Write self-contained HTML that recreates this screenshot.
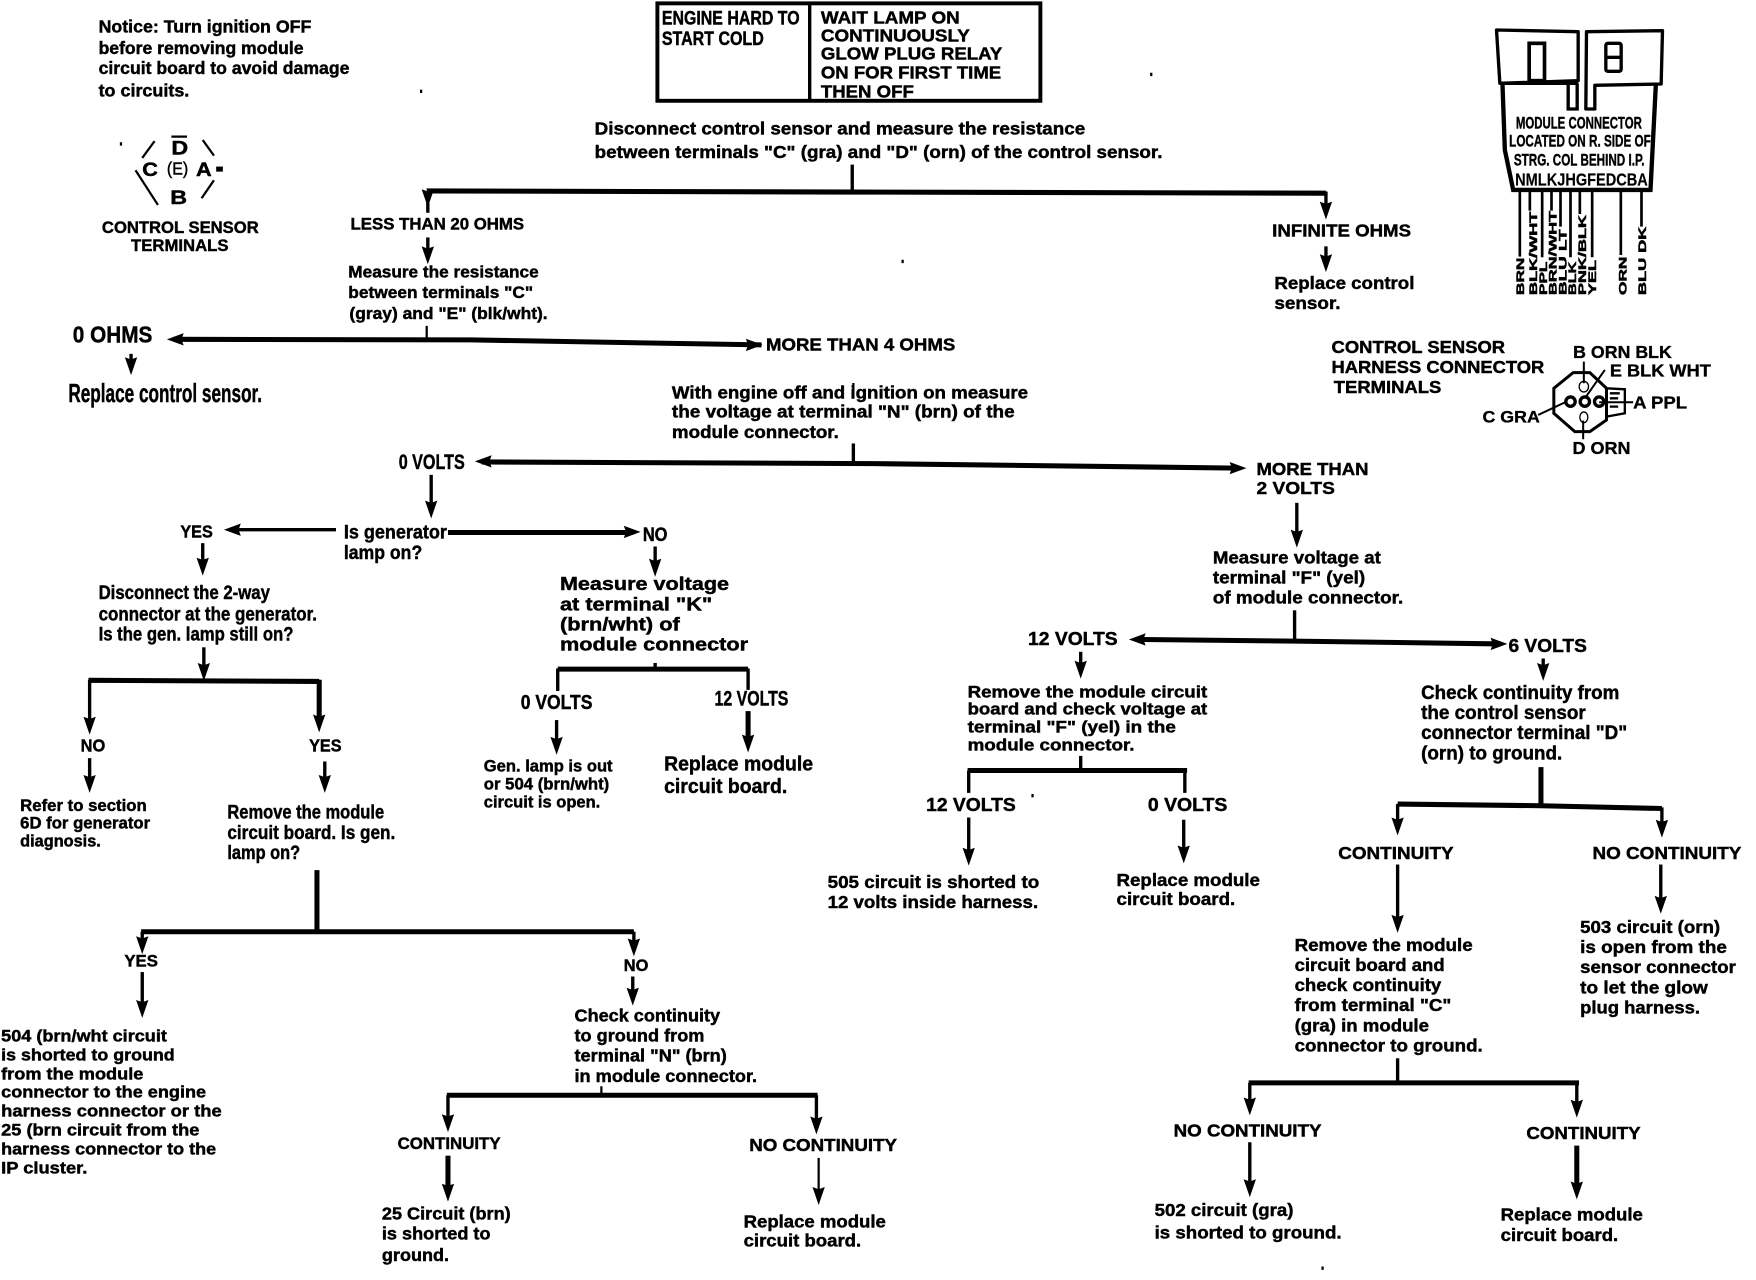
<!DOCTYPE html>
<html><head><meta charset="utf-8"><style>
html,body{margin:0;padding:0;background:#fff}
svg{display:block}
text{font-family:"Liberation Sans",sans-serif;font-weight:bold;fill:#000;font-size:15.5px;stroke:#000;stroke-width:.4px}
.l{stroke:#000;stroke-width:3;fill:none}
.t{stroke:#000;stroke-width:2;fill:none}
.k{stroke:#000;stroke-width:4.5;fill:none}
.s{font-size:15px}.b{font-size:17px}.h{font-size:21px}.c{font-size:18px}
</style></head><body>
<svg width="1756" height="1280" viewBox="0 0 1568 1143" xmlns="http://www.w3.org/2000/svg">
<defs>
<path id="d" d="M-5.500,-16 L0,-14 L5.500,-16 L0,0Z"/>
<path id="r" d="M-15,-5.500 L-13,0 L-15,5.500 L0,0Z"/>
<path id="f" d="M15,-5.500 L13,0 L15,5.500 L0,0Z"/>
</defs>

<!-- top box -->
<rect x="587" y="3" width="342" height="87" class="l" style="stroke-width:3.500"/>
<path d="M723,3V90" class="l"/>
<text x="591" y="22" class="b" textLength="123" lengthAdjust="spacingAndGlyphs">ENGINE HARD TO</text>
<text x="591" y="40" class="b" textLength="91" lengthAdjust="spacingAndGlyphs">START COLD</text>
<text x="733" y="21" textLength="124" lengthAdjust="spacingAndGlyphs">WAIT LAMP ON</text>
<text x="733" y="37" textLength="133" lengthAdjust="spacingAndGlyphs">CONTINUOUSLY</text>
<text x="733" y="53" textLength="162" lengthAdjust="spacingAndGlyphs">GLOW PLUG RELAY</text>
<text x="733" y="70" textLength="161" lengthAdjust="spacingAndGlyphs">ON FOR FIRST TIME</text>
<text x="733" y="87" textLength="83" lengthAdjust="spacingAndGlyphs">THEN OFF</text>

<text x="531" y="120" textLength="438" lengthAdjust="spacingAndGlyphs">Disconnect control  sensor and measure the resistance</text>
<text x="531" y="141" textLength="507" lengthAdjust="spacingAndGlyphs">between terminals "C" (gra) and "D" (orn) of the control sensor.</text>

<!-- notice -->
<text x="88" y="29" textLength="190" lengthAdjust="spacingAndGlyphs">Notice: Turn ignition OFF</text>
<text x="88" y="48" textLength="183" lengthAdjust="spacingAndGlyphs">before removing module</text>
<text x="88" y="66" textLength="224" lengthAdjust="spacingAndGlyphs">circuit board to avoid damage</text>
<text x="88" y="86" textLength="81" lengthAdjust="spacingAndGlyphs">to circuits.</text>

<!-- sensor terminals -->
<path d="M138,126L127,141M121,152L141,183M181,125L191,139M191,161L180,177M153,122H167" class="t"/>
<path d="M193,151H199" class="k"/>
<text x="153" y="138" class="b" textLength="15" lengthAdjust="spacingAndGlyphs">D</text>
<text x="127" y="157" class="b" textLength="14" lengthAdjust="spacingAndGlyphs">C</text>
<text x="149" y="156" textLength="19" lengthAdjust="spacingAndGlyphs" style="font-weight:normal">(E)</text>
<text x="175" y="157" class="b" textLength="14" lengthAdjust="spacingAndGlyphs">A</text>
<text x="152" y="182" class="b" textLength="15" lengthAdjust="spacingAndGlyphs">B</text>
<text x="91" y="208" class="s" textLength="140" lengthAdjust="spacingAndGlyphs">CONTROL SENSOR</text>
<text x="117" y="224" class="s" textLength="87" lengthAdjust="spacingAndGlyphs">TERMINALS</text>

<!-- top branches -->
<path d="M761,147V171" class="l"/>
<path d="M381,170.500L761,171.500L1184,172.500" class="k"/>
<path d="M382,171V190" class="l"/><use href="#d" x="382" y="185"/>
<path d="M1184,171V185" class="l"/><use href="#d" x="1184" y="196"/>
<text x="313" y="205" class="s" textLength="155" lengthAdjust="spacingAndGlyphs">LESS THAN 20 OHMS</text>
<path d="M382,212V225" class="l"/><use href="#d" x="382" y="236"/>
<text x="311" y="248" class="s" textLength="170" lengthAdjust="spacingAndGlyphs">Measure the resistance</text>
<text x="311" y="266" class="s" textLength="165" lengthAdjust="spacingAndGlyphs">between terminals "C"</text>
<text x="312" y="285" class="s" textLength="177" lengthAdjust="spacingAndGlyphs">(gray) and "E" (blk/wht).</text>

<text x="1136" y="211" style="font-size:16px" textLength="124" lengthAdjust="spacingAndGlyphs">INFINITE OHMS</text>
<path d="M1184,220V232" class="l"/><use href="#d" x="1184" y="243"/>
<text x="1138" y="258" style="font-size:16px" textLength="125" lengthAdjust="spacingAndGlyphs">Replace control</text>
<text x="1138" y="276" style="font-size:16px" textLength="59" lengthAdjust="spacingAndGlyphs">sensor.</text>

<text x="65" y="306" style="font-size:21px" textLength="71" lengthAdjust="spacingAndGlyphs">0 OHMS</text>
<path d="M381,291V304" class="t"/>
<path d="M155,303L420,303.500L680,308" class="k"/>
<use href="#f" x="149" y="303"/><use href="#r" x="681" y="308"/>
<path d="M117,316V325" class="l"/><use href="#d" x="117" y="335"/>
<text x="61" y="359" style="font-size:23px" textLength="173" lengthAdjust="spacingAndGlyphs">Replace control sensor.</text>
<text x="684" y="313" style="font-size:16px" textLength="169" lengthAdjust="spacingAndGlyphs">MORE THAN 4 OHMS</text>
<path d="M762,342V352" class="t"/>
<text x="600" y="356" textLength="318" lengthAdjust="spacingAndGlyphs">With engine off and ignition on measure</text>
<text x="600" y="373" textLength="306" lengthAdjust="spacingAndGlyphs">the voltage at terminal "N" (brn) of the</text>
<text x="600" y="391" textLength="149" lengthAdjust="spacingAndGlyphs">module connector.</text>

<!-- second branch -->
<path d="M762,396V414" class="l"/>
<path d="M430,412.500L780,414L1105,418" class="k"/>
<use href="#f" x="424" y="412"/><use href="#r" x="1113" y="418"/>
<text x="356" y="419" style="font-size:19px" textLength="59" lengthAdjust="spacingAndGlyphs">0 VOLTS</text>
<path d="M385,424V450" class="l"/><use href="#d" x="385" y="463"/>
<text x="1122" y="424" style="font-size:16px" textLength="100" lengthAdjust="spacingAndGlyphs">MORE THAN</text>
<text x="1122" y="441" style="font-size:16px" textLength="70" lengthAdjust="spacingAndGlyphs">2 VOLTS</text>
<path d="M1158,449V476" class="l"/><use href="#d" x="1158" y="489"/>
<text x="1083" y="503" textLength="150" lengthAdjust="spacingAndGlyphs">Measure voltage at</text>
<text x="1083" y="521" textLength="136" lengthAdjust="spacingAndGlyphs">terminal "F" (yel)</text>
<text x="1083" y="539" textLength="170" lengthAdjust="spacingAndGlyphs">of module connector.</text>

<!-- generator -->
<text x="307" y="481" class="b" textLength="92" lengthAdjust="spacingAndGlyphs">Is generator</text>
<text x="307" y="499" class="b" textLength="70" lengthAdjust="spacingAndGlyphs">lamp on?</text>
<text x="161" y="480" style="font-size:16px" textLength="29" lengthAdjust="spacingAndGlyphs">YES</text>
<path d="M300,473H210" class="l"/><use href="#f" x="200" y="473"/>
<path d="M400,475.500H565" class="k"/><use href="#r" x="572" y="475"/>
<text x="574" y="483" class="b" textLength="22" lengthAdjust="spacingAndGlyphs">NO</text>
<path d="M181,485V503" class="l"/><use href="#d" x="181" y="514"/>
<path d="M585,488V504" class="l"/><use href="#d" x="585" y="515"/>
<text x="88" y="535" class="b" textLength="153" lengthAdjust="spacingAndGlyphs">Disconnect the 2-way</text>
<text x="88" y="554" class="b" textLength="195" lengthAdjust="spacingAndGlyphs">connector at the generator.</text>
<text x="88" y="572" class="b" textLength="174" lengthAdjust="spacingAndGlyphs">Is the gen. lamp still on?</text>
<text x="500" y="527" style="font-size:16.500px" textLength="151" lengthAdjust="spacingAndGlyphs">Measure voltage</text>
<text x="500" y="545" style="font-size:16.500px" textLength="136" lengthAdjust="spacingAndGlyphs">at terminal "K"</text>
<text x="500" y="563" style="font-size:16.500px" textLength="107" lengthAdjust="spacingAndGlyphs">(brn/wht) of</text>
<text x="500" y="581" style="font-size:16.500px" textLength="168" lengthAdjust="spacingAndGlyphs">module connector</text>

<path d="M182,578V600" class="l"/><use href="#d" x="182" y="608"/>
<path d="M79,607.500L285,608.500" class="k"/>
<path d="M80,607V645" class="l"/><use href="#d" x="80" y="656"/>
<path d="M285,607V643" class="k"/><use href="#d" x="285" y="654"/>
<text x="72" y="671" style="font-size:16px" textLength="22" lengthAdjust="spacingAndGlyphs">NO</text>
<text x="276" y="671" style="font-size:16px" textLength="29" lengthAdjust="spacingAndGlyphs">YES</text>
<path d="M80,677V696" class="l"/><use href="#d" x="80" y="708"/>
<path d="M290,680V696" class="l"/><use href="#d" x="290" y="708"/>
<text x="18" y="724" class="s" textLength="113" lengthAdjust="spacingAndGlyphs">Refer to section</text>
<text x="18" y="740" class="s" textLength="116" lengthAdjust="spacingAndGlyphs">6D for generator</text>
<text x="18" y="756" class="s" textLength="72" lengthAdjust="spacingAndGlyphs">diagnosis.</text>
<text x="203" y="731" class="b" textLength="140" lengthAdjust="spacingAndGlyphs">Remove the module</text>
<text x="203" y="749" class="b" textLength="150" lengthAdjust="spacingAndGlyphs">circuit board.  Is gen.</text>
<text x="203" y="767" class="b" textLength="65" lengthAdjust="spacingAndGlyphs">lamp on?</text>

<!-- K branch -->
<path d="M585,592V597" class="l"/>
<path d="M498,597.500H668" class="k"/>
<path d="M498,597V617M668,597V616" class="l"/>
<text x="465" y="633" class="c" textLength="64" lengthAdjust="spacingAndGlyphs">0 VOLTS</text>
<text x="638" y="630" style="font-size:19px" textLength="66" lengthAdjust="spacingAndGlyphs">12 VOLTS</text>
<path d="M497,643V662" class="l"/><use href="#d" x="497" y="674"/>
<path d="M668,635V660" class="k"/><use href="#d" x="668" y="672"/>
<text x="432" y="689" class="s" textLength="115" lengthAdjust="spacingAndGlyphs">Gen. lamp is out</text>
<text x="432" y="705" class="s" textLength="112" lengthAdjust="spacingAndGlyphs">or 504 (brn/wht)</text>
<text x="432" y="721" class="s" textLength="104" lengthAdjust="spacingAndGlyphs">circuit is open.</text>
<text x="593" y="688" style="font-size:18px" textLength="133" lengthAdjust="spacingAndGlyphs">Replace module</text>
<text x="593" y="708" style="font-size:18px" textLength="110" lengthAdjust="spacingAndGlyphs">circuit board.</text>

<!-- lamp branch -->
<path d="M283,777V832" class="k"/>
<path d="M126,832L566,832" class="k"/>
<path d="M127,832V842" class="l"/><use href="#d" x="127" y="852"/>
<path d="M566,832V844" class="l"/><use href="#d" x="566" y="854"/>
<text x="111" y="863" class="s" textLength="30" lengthAdjust="spacingAndGlyphs">YES</text>
<text x="557" y="867" class="s" textLength="22" lengthAdjust="spacingAndGlyphs">NO</text>
<path d="M127,868V896" class="l"/><use href="#d" x="127" y="909"/>
<path d="M565,872V887" class="l"/><use href="#d" x="565" y="898"/>
<text x="1" y="930" class="s" textLength="148" lengthAdjust="spacingAndGlyphs">504 (brn/wht circuit</text>
<text x="1" y="947" class="s" textLength="155" lengthAdjust="spacingAndGlyphs">is shorted to ground</text>
<text x="1" y="964" class="s" textLength="127" lengthAdjust="spacingAndGlyphs">from the module</text>
<text x="1" y="980" class="s" textLength="183" lengthAdjust="spacingAndGlyphs">connector to the engine</text>
<text x="1" y="997" class="s" textLength="197" lengthAdjust="spacingAndGlyphs">harness  connector or the</text>
<text x="1" y="1014" class="s" textLength="177" lengthAdjust="spacingAndGlyphs">25 (brn circuit from the</text>
<text x="1" y="1031" class="s" textLength="192" lengthAdjust="spacingAndGlyphs">harness connector to the</text>
<text x="1" y="1048" class="s" textLength="77" lengthAdjust="spacingAndGlyphs">IP cluster.</text>
<text x="513" y="912" textLength="130" lengthAdjust="spacingAndGlyphs">Check continuity</text>
<text x="513" y="930" textLength="116" lengthAdjust="spacingAndGlyphs">to ground from</text>
<text x="513" y="948" textLength="136" lengthAdjust="spacingAndGlyphs">terminal "N" (brn)</text>
<text x="513" y="966" textLength="163" lengthAdjust="spacingAndGlyphs">in module connector.</text>
<path d="M537,970V978" class="t"/>
<path d="M399,978H730" class="k"/>
<path d="M400,978V1000" class="l"/><use href="#d" x="400" y="1011"/>
<path d="M729,978V1002" class="l"/><use href="#d" x="729" y="1013"/>
<text x="355" y="1026" class="s" textLength="92" lengthAdjust="spacingAndGlyphs">CONTINUITY</text>
<text x="669" y="1028" textLength="132" lengthAdjust="spacingAndGlyphs">NO CONTINUITY</text>
<path d="M400,1032V1061" class="k"/><use href="#d" x="400" y="1073"/>
<path d="M731,1034V1065" class="t"/><use href="#d" x="731" y="1076"/>
<text x="341" y="1089" textLength="115" lengthAdjust="spacingAndGlyphs">25 Circuit (brn)</text>
<text x="341" y="1107" textLength="97" lengthAdjust="spacingAndGlyphs">is shorted to</text>
<text x="341" y="1126" textLength="60" lengthAdjust="spacingAndGlyphs">ground.</text>
<text x="664" y="1096" textLength="127" lengthAdjust="spacingAndGlyphs">Replace module</text>
<text x="664" y="1113" textLength="105" lengthAdjust="spacingAndGlyphs">circuit board.</text>

<!-- right tree -->
<path d="M1156,545V572" class="l"/>
<path d="M1015,571L1156,572.500L1340,575" class="k"/>
<use href="#f" x="1008" y="571"/><use href="#r" x="1346" y="575"/>
<text x="918" y="576" style="font-size:16.500px" textLength="80" lengthAdjust="spacingAndGlyphs">12 VOLTS</text>
<text x="1347" y="582" style="font-size:16.500px" textLength="70" lengthAdjust="spacingAndGlyphs">6 VOLTS</text>
<path d="M965,582V594" class="l"/><use href="#d" x="965" y="606"/>
<path d="M1378,588V597" class="l"/><use href="#d" x="1378" y="608"/>
<text x="864" y="623" class="s" textLength="214" lengthAdjust="spacingAndGlyphs">Remove the module circuit</text>
<text x="864" y="638" class="s" textLength="214" lengthAdjust="spacingAndGlyphs">board and check voltage at</text>
<text x="864" y="654" class="s" textLength="186" lengthAdjust="spacingAndGlyphs">terminal "F" (yel) in the</text>
<text x="864" y="670" class="s" textLength="149" lengthAdjust="spacingAndGlyphs">module connector.</text>
<text x="1269" y="624" class="b" textLength="177" lengthAdjust="spacingAndGlyphs">Check continuity from</text>
<text x="1269" y="642" class="b" textLength="147" lengthAdjust="spacingAndGlyphs">the control sensor</text>
<text x="1269" y="660" class="b" textLength="184" lengthAdjust="spacingAndGlyphs">connector terminal "D"</text>
<text x="1269" y="678" class="b" textLength="126" lengthAdjust="spacingAndGlyphs">(orn) to ground.</text>

<path d="M965,675V688" class="l"/>
<path d="M864,688H1060" class="k"/>
<path d="M865,688V708M1058,688V708" class="l"/>
<text x="827" y="724" style="font-size:16.500px" textLength="80" lengthAdjust="spacingAndGlyphs">12 VOLTS</text>
<text x="1025" y="724" style="font-size:16.500px" textLength="71" lengthAdjust="spacingAndGlyphs">0 VOLTS</text>
<path d="M865,730V760" class="l"/><use href="#d" x="865" y="773"/>
<path d="M1057,732V758" class="l"/><use href="#d" x="1057" y="771"/>
<text x="739" y="793" textLength="189" lengthAdjust="spacingAndGlyphs">505 circuit is shorted to</text>
<text x="739" y="811" textLength="188" lengthAdjust="spacingAndGlyphs">12 volts inside harness.</text>
<text x="997" y="791" textLength="128" lengthAdjust="spacingAndGlyphs">Replace module</text>
<text x="997" y="808" textLength="106" lengthAdjust="spacingAndGlyphs">circuit board.</text>

<path d="M1376,685V720" class="k"/>
<path d="M1248,718L1376,719.500L1484,722" class="k"/>
<path d="M1248,718V735M1484,721V737" class="l"/>
<use href="#d" x="1248" y="746"/><use href="#d" x="1484" y="748"/>
<text x="1195" y="767" style="font-size:16px" textLength="103" lengthAdjust="spacingAndGlyphs">CONTINUITY</text>
<text x="1422" y="767" textLength="133" lengthAdjust="spacingAndGlyphs">NO CONTINUITY</text>
<path d="M1248,772V822" class="l"/><use href="#d" x="1248" y="833"/>
<path d="M1483,772V804" class="l"/><use href="#d" x="1483" y="816"/>
<text x="1156" y="849" textLength="159" lengthAdjust="spacingAndGlyphs">Remove the module</text>
<text x="1156" y="867" textLength="134" lengthAdjust="spacingAndGlyphs">circuit board and</text>
<text x="1156" y="885" textLength="131" lengthAdjust="spacingAndGlyphs">check continuity</text>
<text x="1156" y="903" textLength="140" lengthAdjust="spacingAndGlyphs">from terminal "C"</text>
<text x="1156" y="921" textLength="120" lengthAdjust="spacingAndGlyphs">(gra) in module</text>
<text x="1156" y="939" textLength="168" lengthAdjust="spacingAndGlyphs">connector to ground.</text>
<text x="1411" y="833" textLength="125" lengthAdjust="spacingAndGlyphs">503 circuit (orn)</text>
<text x="1411" y="851" textLength="131" lengthAdjust="spacingAndGlyphs">is open from the</text>
<text x="1411" y="869" textLength="139" lengthAdjust="spacingAndGlyphs">sensor connector</text>
<text x="1411" y="887" textLength="114" lengthAdjust="spacingAndGlyphs">to let the glow</text>
<text x="1411" y="905" textLength="107" lengthAdjust="spacingAndGlyphs">plug harness.</text>
<path d="M1248,945V967" class="l"/>
<path d="M1115,967H1410" class="k"/>
<path d="M1116,967V985M1408,967V987" class="l"/>
<use href="#d" x="1116" y="996"/><use href="#d" x="1408" y="998"/>
<text x="1048" y="1015" textLength="132" lengthAdjust="spacingAndGlyphs">NO CONTINUITY</text>
<text x="1363" y="1017" textLength="102" lengthAdjust="spacingAndGlyphs">CONTINUITY</text>
<path d="M1116,1020V1056" class="l"/><use href="#d" x="1116" y="1069"/>
<path d="M1408,1023V1058" class="k"/><use href="#d" x="1408" y="1071"/>
<text x="1031" y="1086" textLength="124" lengthAdjust="spacingAndGlyphs">502 circuit (gra)</text>
<text x="1031" y="1106" textLength="167" lengthAdjust="spacingAndGlyphs">is shorted to ground.</text>
<text x="1340" y="1090" textLength="127" lengthAdjust="spacingAndGlyphs">Replace module</text>
<text x="1340" y="1108" textLength="105" lengthAdjust="spacingAndGlyphs">circuit board.</text>

<!-- control sensor harness -->
<text x="1189" y="315" style="font-size:16px" textLength="155" lengthAdjust="spacingAndGlyphs">CONTROL SENSOR</text>
<text x="1189" y="333" style="font-size:16px" textLength="190" lengthAdjust="spacingAndGlyphs">HARNESS CONNECTOR</text>
<text x="1191" y="351" style="font-size:16px" textLength="96" lengthAdjust="spacingAndGlyphs">TERMINALS</text>

<!-- specks -->
<path d="M1181,1131v3M806,232v3M922,709v3M376,80v3M108,127v3M1028,65v3" class="t"/>

<!-- connector drawings in zoom coordinates -->
<g transform="scale(.89286) translate(1300,0) scale(.33333)">
<path d="M590,90L835,95V242L600,250Z" fill="none" stroke="#000" stroke-width="10" stroke-linejoin="round"/>
<path d="M860,95L1088,92L1084,252L885,256V327H858Z" fill="none" stroke="#000" stroke-width="10" stroke-linejoin="round"/>
<rect x="688" y="130" width="46" height="112" fill="none" stroke="#000" stroke-width="11"/>
<rect x="918" y="130" width="46" height="84" rx="6" fill="none" stroke="#000" stroke-width="10"/>
<path d="M918,172H964" stroke="#000" stroke-width="10"/>
<path d="M835,250H600M805,252V327H832V250" fill="none" stroke="#000" stroke-width="10"/>
<path d="M608,255L615,450L640,570H1052L1068,255" fill="none" stroke="#000" stroke-width="13"/>
<path d="M660,570V770M690,570V632M727,570V772M755,570V632M782,570V680M812,570V772M840,570V642M877,570V772M963,570V765M1025,570V680" stroke="#000" stroke-width="8" fill="none"/>
<text x="648" y="385" style="font-size:50px;stroke-width:1.200px" textLength="378" lengthAdjust="spacingAndGlyphs">MODULE CONNECTOR</text>
<text x="628" y="440" style="font-size:50px;stroke-width:1.200px" textLength="425" lengthAdjust="spacingAndGlyphs">LOCATED ON R. SIDE OF</text>
<text x="642" y="497" style="font-size:50px;stroke-width:1.200px" textLength="392" lengthAdjust="spacingAndGlyphs">STRG. COL BEHIND I.P.</text>
<text x="646" y="556" style="font-size:52px;font-weight:bold;stroke-width:.5px" textLength="398" lengthAdjust="spacingAndGlyphs">NMLKJHGFEDCBA</text>
<text transform="translate(672,885) rotate(-90)" style="font-size:34px;stroke-width:1.500px" textLength="112" lengthAdjust="spacingAndGlyphs">BRN</text>
<text transform="translate(711,885) rotate(-90)" style="font-size:34px;stroke-width:1.500px" textLength="250" lengthAdjust="spacingAndGlyphs">BLK/WHT</text>
<text transform="translate(741,885) rotate(-90)" style="font-size:34px;stroke-width:1.500px" textLength="100" lengthAdjust="spacingAndGlyphs">PPL</text>
<text transform="translate(770,885) rotate(-90)" style="font-size:34px;stroke-width:1.500px" textLength="252" lengthAdjust="spacingAndGlyphs">BRN/WHT</text>
<text transform="translate(800,885) rotate(-90)" style="font-size:34px;stroke-width:1.500px" textLength="197" lengthAdjust="spacingAndGlyphs">BLU LT</text>
<text transform="translate(829,885) rotate(-90)" style="font-size:34px;stroke-width:1.500px" textLength="100" lengthAdjust="spacingAndGlyphs">BLK</text>
<text transform="translate(859,885) rotate(-90)" style="font-size:34px;stroke-width:1.500px" textLength="240" lengthAdjust="spacingAndGlyphs">PNK/BLK</text>
<text transform="translate(888,885) rotate(-90)" style="font-size:34px;stroke-width:1.500px" textLength="105" lengthAdjust="spacingAndGlyphs">YEL</text>
<text transform="translate(980,885) rotate(-90)" style="font-size:34px;stroke-width:1.500px" textLength="115" lengthAdjust="spacingAndGlyphs">ORN</text>
<text transform="translate(1038,885) rotate(-90)" style="font-size:34px;stroke-width:1.500px" textLength="205" lengthAdjust="spacingAndGlyphs">BLU DK</text>

<path d="M762,1165L820,1118H870L920,1165V1260L870,1295H825L762,1240Z" fill="none" stroke="#000" stroke-width="9"/>
<path d="M920,1165L975,1168V1240L920,1250" fill="none" stroke="#000" stroke-width="7"/>
<circle cx="812" cy="1205" r="14" fill="none" stroke="#000" stroke-width="10"/>
<circle cx="855" cy="1205" r="14" fill="none" stroke="#000" stroke-width="10"/>
<circle cx="898" cy="1205" r="14" fill="none" stroke="#000" stroke-width="10"/>
<ellipse cx="852" cy="1160" rx="14" ry="16" fill="none" stroke="#000" stroke-width="4"/>
<ellipse cx="852" cy="1252" rx="12" ry="16" fill="none" stroke="#000" stroke-width="4"/>
<path d="M930,1180h30M930,1195h25M930,1220h25" stroke="#000" stroke-width="7"/>
<path d="M852,1085V1150M915,1110L855,1195M715,1245L800,1205M898,1207H1000M850,1262V1318" stroke="#000" stroke-width="6" fill="none"/>
<text x="820" y="1074" style="font-size:52px;stroke-width:1px" textLength="296" lengthAdjust="spacingAndGlyphs">B ORN BLK</text>
<text x="930" y="1130" style="font-size:52px;stroke-width:1px" textLength="303" lengthAdjust="spacingAndGlyphs">E BLK WHT</text>
<text x="1000" y="1226" style="font-size:52px;stroke-width:1px" textLength="162" lengthAdjust="spacingAndGlyphs">A PPL</text>
<text x="548" y="1268" style="font-size:50px;stroke-width:1px" textLength="172" lengthAdjust="spacingAndGlyphs">C GRA</text>
<text x="818" y="1362" style="font-size:52px;stroke-width:1px" textLength="174" lengthAdjust="spacingAndGlyphs">D ORN</text>
</g>
</svg>
</body></html>
